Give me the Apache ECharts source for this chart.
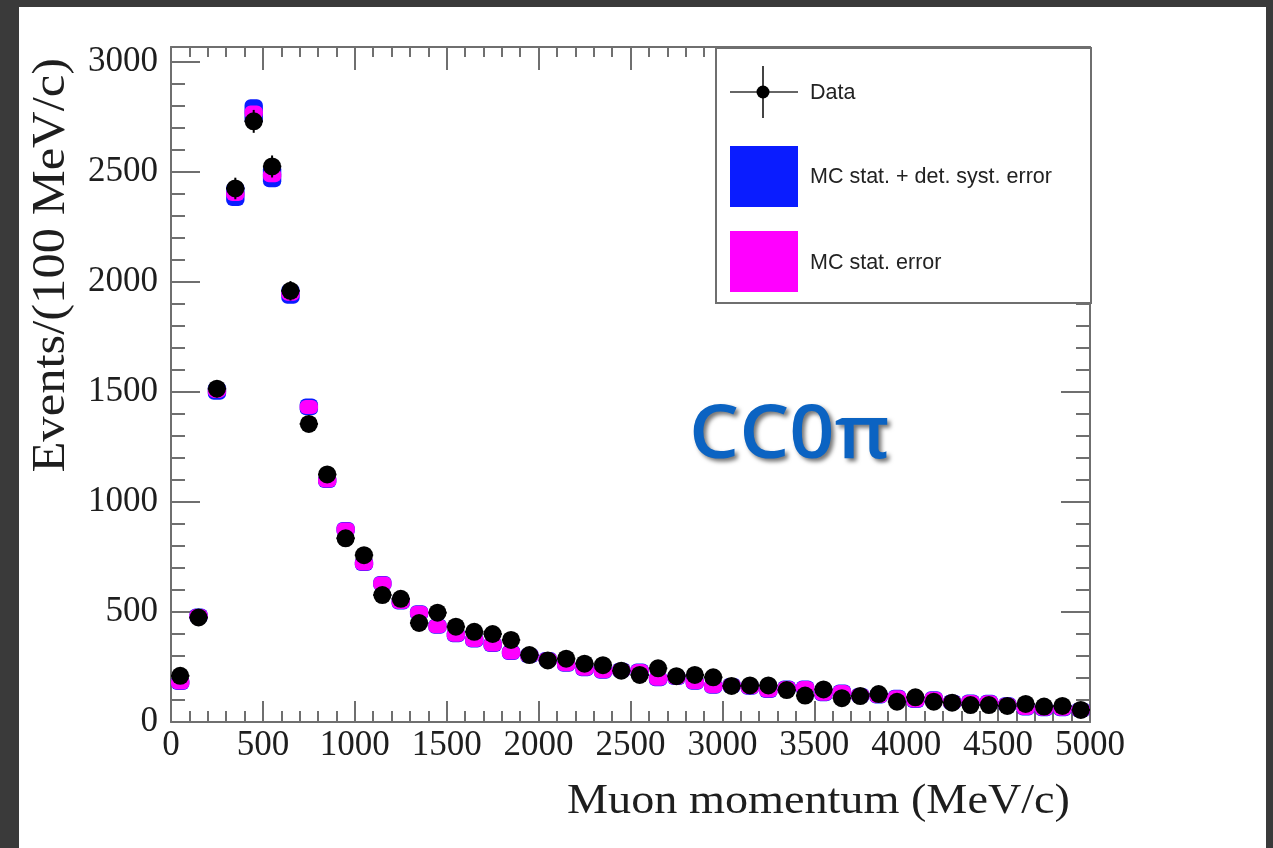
<!DOCTYPE html>
<html>
<head>
<meta charset="utf-8">
<script src="https://cdn.jsdelivr.net/npm/echarts@6/dist/echarts.min.js"></script>
<style>
  html, body { margin: 0; padding: 0; width: 1273px; height: 848px; overflow: hidden; background: #3a3a3a; }
  #panel { position: absolute; left: 19px; top: 7px; width: 1247px; height: 841px; background: #ffffff; }
  #chart { position: absolute; left: 0; top: 0; width: 1273px; height: 848px; }
</style>
</head>
<body>
<div id="panel"></div>
<div id="chart"></div>
<script>
// Muon momentum bins (MeV/c), 100 MeV/c wide
const binWidth = 100;
const binCenters = [
  50, 150, 250, 350, 450, 550, 650, 750, 850, 950,
  1050, 1150, 1250, 1350, 1450, 1550, 1650, 1750, 1850, 1950,
  2050, 2150, 2250, 2350, 2450, 2550, 2650, 2750, 2850, 2950,
  3050, 3150, 3250, 3350, 3450, 3550, 3650, 3750, 3850, 3950,
  4050, 4150, 4250, 4350, 4450, 4550, 4650, 4750, 4850, 4950
];

// Observed events per bin and their statistical errors
const dataCounts = [
  210, 475, 1515, 2425, 2730, 2525, 1960, 1355, 1125, 835,
  758, 577, 560, 450, 497, 433, 410, 400, 373, 304,
  280, 288, 265, 258, 233, 214, 244, 208, 214, 203,
  164, 166, 166, 145, 120, 148, 108, 118, 127, 92,
  112, 92, 88, 77, 77, 73, 82, 70, 73, 55
];
const dataErr = [
  14, 22, 39, 49, 52, 50, 44, 37, 34, 29,
  28, 24, 24, 21, 22, 21, 20, 20, 19, 17,
  17, 17, 16, 16, 15, 15, 16, 14, 15, 14,
  13, 13, 13, 12, 11, 12, 10, 11, 11, 10,
  11, 10, 9, 9, 9, 9, 9, 8, 9, 7
];

// Monte Carlo prediction with MC-stat and MC-stat + detector-systematic errors
const mcCounts = [
  180, 482, 1505, 2400, 2770, 2485, 1946, 1432, 1098, 875,
  720, 630, 545, 497, 435, 397, 373, 352, 316, 302,
  284, 262, 242, 231, 235, 232, 197, 202, 181, 163,
  166, 158, 143, 155, 155, 128, 136, 120, 118, 113,
  98, 106, 90, 91, 90, 78, 64, 60, 60, 55
];
const mcStatErr = [
  8, 12, 22, 28, 30, 28, 25, 22, 19, 17,
  15, 14, 13, 12, 11, 11, 10, 10, 9, 9,
  9, 8, 8, 8, 8, 8, 7, 7, 7, 7,
  7, 7, 6, 6, 6, 6, 6, 6, 6, 6,
  5, 5, 5, 5, 5, 5, 5, 5, 5, 5
];
const mcTotErr = [
  12, 20, 40, 55, 60, 55, 45, 38, 30, 26,
  23, 21, 19, 17, 16, 15, 14, 13, 12, 12,
  11, 11, 10, 10, 10, 10, 9, 9, 9, 8,
  8, 8, 8, 8, 8, 7, 7, 7, 7, 7,
  7, 6, 6, 6, 6, 6, 6, 6, 6, 6
];

// Axis ranges and tick spacing
const xMin = 0, xMax = 5000, xMajor = 500, xMinor = 100;
const yMin = 0, yMax = 3068, yMajor = 500, yMinor = 100;

// Text
const xTitle = 'Muon momentum (MeV/c)';
const yTitle = 'Events/(100 MeV/c)';
const sampleLabel = 'CC0\u03c0';
const legendLabels = ['Data', 'MC stat. + det. syst. error', 'MC stat. error'];

const frameColor = '#6f6f6f';
const serif = '"Liberation Serif", "DejaVu Serif", serif';
const sans = '"Liberation Sans", Arial, sans-serif';

const dataRows = binCenters.map((c, i) => [c, dataCounts[i], dataErr[i]]);
const mcTotRows = binCenters.map((c, i) => [c, mcCounts[i], mcTotErr[i]]);
const mcStatRows = binCenters.map((c, i) => [c, mcCounts[i], mcStatErr[i]]);

// Error box spanning the bin width, with a minimum visible height
function errorBox(color, minH) {
  return function (params, api) {
    const c = api.value(0), v = api.value(1), e = api.value(2);
    const p0 = api.coord([c - binWidth / 2, v + e]);
    const p1 = api.coord([c + binWidth / 2, v - e]);
    let y = p0[1];
    let h = p1[1] - p0[1];
    if (h < minH) { y -= (minH - h) / 2; h = minH; }
    return {
      type: 'rect',
      shape: { x: p0[0], y: y, width: p1[0] - p0[0], height: h, r: 6 },
      style: { fill: color }
    };
  };
}

function dataErrorBars(params, api) {
  const c = api.value(0), v = api.value(1), e = api.value(2);
  const top = api.coord([c, v + e]);
  const bot = api.coord([c, v - e]);
  const l = api.coord([c - binWidth / 2, v]);
  const r = api.coord([c + binWidth / 2, v]);
  const st = { stroke: '#000', lineWidth: 2 };
  return {
    type: 'group',
    children: [
      { type: 'line', shape: { x1: top[0], y1: top[1], x2: bot[0], y2: bot[1] }, style: st },
      { type: 'line', shape: { x1: l[0], y1: l[1], x2: r[0], y2: r[1] }, style: st }
    ]
  };
}

const lineStyle = { color: frameColor, width: 2 };

function xAxisDef(position, majorLen, minorLen, showLabels) {
  return {
    type: 'value', position: position, min: xMin, max: xMax, interval: xMajor, z: 1,
    axisLine: { show: true, onZero: false, lineStyle: lineStyle },
    axisTick: { show: true, inside: true, length: majorLen, lineStyle: lineStyle },
    minorTick: { show: true, splitNumber: xMajor / xMinor, length: minorLen, lineStyle: lineStyle },
    splitLine: { show: false },
    axisLabel: {
      show: showLabels, fontFamily: serif, fontSize: 35, color: '#1e1e1e', margin: 6,
      formatter: v => String(v)
    }
  };
}

function yAxisDef(position, interval, tickLen, showLine, showLabels) {
  return {
    type: 'value', position: position, min: yMin, max: yMax, interval: interval, z: 1,
    axisLine: { show: showLine, onZero: false, lineStyle: lineStyle },
    axisTick: { show: true, inside: true, length: tickLen, lineStyle: lineStyle },
    splitLine: { show: false },
    axisLabel: {
      show: showLabels, fontFamily: serif, fontSize: 35, color: '#1e1e1e', margin: 13,
      formatter: v => (v % yMajor === 0 ? String(v) : '')
    }
  };
}

// Legend box geometry
const lg = { x: 716, y: 48, w: 375, h: 255 };
const legendZ = 100;

const chart = echarts.init(document.getElementById('chart'), null, { renderer: 'canvas' });
chart.setOption({
  animation: false,
  backgroundColor: 'transparent',
  grid: { left: 171, right: 183, top: 47, bottom: 126, containLabel: false },
  xAxis: [
    xAxisDef('bottom', 21, 11, true),
    xAxisDef('top', 23, 10, false)
  ],
  yAxis: [
    yAxisDef('left', yMajor, 29, true, true),
    yAxisDef('left', yMinor, 14, false, false),
    yAxisDef('right', yMajor, 29, true, false),
    yAxisDef('right', yMinor, 14, false, false)
  ],
  series: [
    {
      name: legendLabels[1], type: 'custom', xAxisIndex: 0, yAxisIndex: 0,
      renderItem: errorBox('#0a1cff', 15), encode: { x: 0, y: 1 }, data: mcTotRows, z: 2
    },
    {
      name: legendLabels[2], type: 'custom', xAxisIndex: 0, yAxisIndex: 0,
      renderItem: errorBox('#ff00ff', 14), encode: { x: 0, y: 1 }, data: mcStatRows, z: 3
    },
    {
      name: 'data-errors', type: 'custom', xAxisIndex: 0, yAxisIndex: 0,
      renderItem: dataErrorBars, encode: { x: 0, y: 1 }, data: dataRows, z: 4
    },
    {
      name: legendLabels[0], type: 'scatter', xAxisIndex: 0, yAxisIndex: 0,
      symbol: 'circle', symbolSize: 18, itemStyle: { color: '#000', opacity: 1 },
      data: dataRows.map(r => [r[0], r[1]]), z: 5
    }
  ],
  graphic: [
    // axis titles
    {
      type: 'text', x: 1070, y: 802, z: 50, scaleX: 1.1,
      style: { text: xTitle, font: '42px ' + serif, fill: '#1e1e1e', align: 'right', verticalAlign: 'middle' }
    },
    {
      type: 'text', x: 52, y: 58, rotation: Math.PI / 2, scaleX: 1.1, z: 50,
      style: { text: yTitle, font: '46px ' + serif, fill: '#1e1e1e', align: 'right', verticalAlign: 'middle' }
    },
    // sample label
    {
      type: 'text', x: 689, y: 437, z: 50, scaleX: 1.07,
      style: {
        text: sampleLabel, font: '600 74px "Open Sans", sans-serif', fill: '#0b63c2',
        align: 'left', verticalAlign: 'middle',
        textShadowColor: 'rgba(0,0,0,0.55)', textShadowBlur: 4, textShadowOffsetX: 3, textShadowOffsetY: 3
      }
    },
    // legend box, drawn above the frame ticks
    { type: 'rect', z: legendZ, shape: { x: lg.x, y: lg.y, width: lg.w, height: lg.h },
      style: { fill: '#fff', stroke: frameColor, lineWidth: 2 } },
    { type: 'line', z: legendZ + 1, shape: { x1: 730, y1: 92, x2: 798, y2: 92 }, style: { stroke: '#666', lineWidth: 2 } },
    { type: 'line', z: legendZ + 1, shape: { x1: 763, y1: 66, x2: 763, y2: 118 }, style: { stroke: '#444', lineWidth: 2 } },
    { type: 'circle', z: legendZ + 2, shape: { cx: 763, cy: 92, r: 6.5 }, style: { fill: '#000' } },
    { type: 'text', z: legendZ + 1, x: 810, y: 93,
      style: { text: legendLabels[0], font: '21.5px ' + sans, fill: '#222', verticalAlign: 'middle' } },
    { type: 'rect', z: legendZ + 1, shape: { x: 730, y: 146, width: 68, height: 61 }, style: { fill: '#0a1cff' } },
    { type: 'text', z: legendZ + 1, x: 810, y: 177,
      style: { text: legendLabels[1], font: '21.5px ' + sans, fill: '#222', verticalAlign: 'middle' } },
    { type: 'rect', z: legendZ + 1, shape: { x: 730, y: 231, width: 68, height: 61 }, style: { fill: '#ff00ff' } },
    { type: 'text', z: legendZ + 1, x: 810, y: 263,
      style: { text: legendLabels[2], font: '21.5px ' + sans, fill: '#222', verticalAlign: 'middle' } }
  ]
});
</script>
</body>
</html>
